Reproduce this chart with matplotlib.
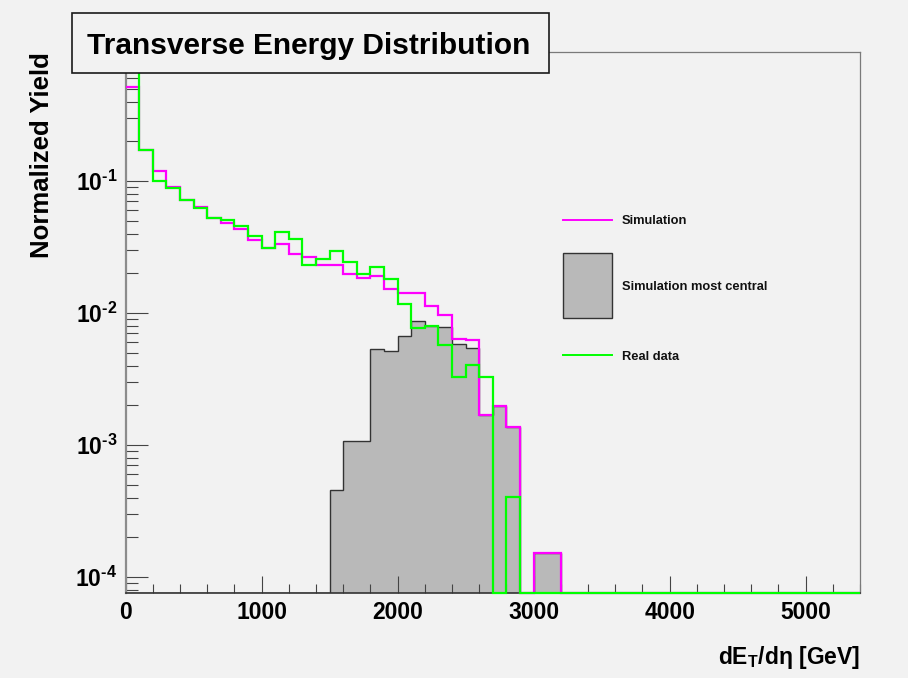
import numpy as np
import matplotlib
matplotlib.use('Agg')
import matplotlib.pyplot as plt
from matplotlib.patches import Rectangle
from matplotlib.lines import Line2D
from matplotlib.ticker import FixedLocator, LogLocator, NullFormatter, MultipleLocator

# dE_T/deta histograms, 100 GeV bins from 0 to 5400
et_lo, et_hi, et_step = 0, 5400, 100

sim_all = [
    0.515, 0.171, 0.1198, 0.0900, 0.0718, 0.0640, 0.0528, 0.0483, 0.0430, 0.0356,
    0.0313, 0.0335, 0.0280, 0.0266, 0.0232, 0.0232, 0.0196, 0.0185, 0.0191, 0.0151,
    0.01426, 0.01426, 0.01130, 0.00961, 0.00638, 0.00621, 0.00169, 0.00199, 0.00138, 0,
    0.000153, 0.000153, 0, 0, 0, 0, 0, 0, 0, 0,
    0, 0, 0, 0, 0, 0, 0, 0, 0, 0,
    0, 0, 0, 0,
]
sim_central = [
    0, 0, 0, 0, 0, 0, 0, 0, 0, 0,
    0, 0, 0, 0, 0, 0.000456, 0.001066, 0.001066, 0.00531, 0.00513,
    0.00666, 0.00865, 0.00800, 0.00780, 0.00586, 0.00543, 0.00169, 0.00199, 0.00138, 0,
    0.000153, 0.000153, 0, 0, 0, 0, 0, 0, 0, 0,
    0, 0, 0, 0, 0, 0, 0, 0, 0, 0,
    0, 0, 0, 0,
]
real_data = [
    0.75, 0.171, 0.1006, 0.0880, 0.0718, 0.0621, 0.0528, 0.0507, 0.0459, 0.0386,
    0.0313, 0.0411, 0.0364, 0.0230, 0.0258, 0.0293, 0.0242, 0.0196, 0.0222, 0.0182,
    0.01178, 0.00769, 0.00801, 0.00569, 0.00326, 0.00403, 0.00325, 0, 0.000404, 0,
    0, 0, 0, 0, 0, 0, 0, 0, 0, 0,
    0, 0, 0, 0, 0, 0, 0, 0, 0, 0,
    0, 0, 0, 0,
]

x_ticks = [0, 1000, 2000, 3000, 4000, 5000]
y_ticks = [1e-4, 1e-3, 1e-2, 1e-1]
y_ticklabels = [r'$10^{\text{-}4}$', r'$10^{\text{-}3}$', r'$10^{\text{-}2}$', r'$10^{\text{-}1}$']
legend_labels = ['Simulation', 'Simulation most central', 'Real data']

y_min, y_max = 7.6e-5, 0.95

bg = '#f2f2f2'
plt.rcParams['font.family'] = ['Liberation Sans', 'DejaVu Sans']
plt.rcParams['font.weight'] = 'bold'
plt.rcParams['mathtext.fontset'] = 'custom'
plt.rcParams['mathtext.rm'] = 'Liberation Sans:bold'
plt.rcParams['mathtext.bf'] = 'Liberation Sans:bold'
plt.rcParams['mathtext.it'] = 'Liberation Sans:bold'
plt.rcParams['mathtext.default'] = 'bf'

W, H = 908, 678
fig = plt.figure(figsize=(W / 100, H / 100), dpi=100, facecolor=bg)
ax = fig.add_axes([125.7 / W, 1 - 592.7 / H, (860 - 125.7) / W, (592.7 - 52) / H])
ax.set_facecolor(bg)

edges = np.arange(et_lo, et_hi + et_step, et_step)


def floor(vals):
    # empty bins sit on the lower edge of the log frame
    v = np.asarray(vals, dtype=float)
    return np.where(v > 0, v, y_min)


ax.set_yscale('log')
ax.stairs(floor(sim_central), edges, baseline=y_min, fill=True,
          color='#b9b9b9', zorder=1)
ax.stairs(floor(sim_central), edges, baseline=y_min, color='#333333',
          lw=1.0, zorder=2)
ax.stairs(floor(sim_all), edges, baseline=None, color='#ff00ff',
          lw=1.6, zorder=3, clip_on=False)
ax.stairs(floor(real_data), edges, baseline=None, color='#00ff00',
          lw=1.6, zorder=4, clip_on=False)

ax.set_xlim(et_lo, et_hi)
ax.set_ylim(y_min, y_max)

# frame
for side in ['top', 'right']:
    ax.spines[side].set_color('#7a7a7a')
    ax.spines[side].set_linewidth(0.9)
ax.spines['left'].set_color('#8c8c8c')
ax.spines['left'].set_linewidth(1.6)
ax.spines['bottom'].set_color('#333333')
ax.spines['bottom'].set_linewidth(1.2)

ax.xaxis.set_major_locator(FixedLocator(x_ticks))
ax.xaxis.set_minor_locator(MultipleLocator(200))
ax.set_xticklabels([str(t) for t in x_ticks])
ax.yaxis.set_major_locator(FixedLocator(y_ticks))
ax.yaxis.set_minor_locator(LogLocator(base=10, subs=np.arange(2, 10)))
ax.yaxis.set_minor_formatter(NullFormatter())
ax.set_yticklabels(y_ticklabels)

ax.tick_params(axis='both', which='both', direction='in', color='#444444',
               width=0.8, labelsize=16.5, top=False, right=False)
ax.tick_params(axis='x', which='major', length=12.2, pad=6)
ax.tick_params(axis='x', which='minor', length=6.5)
ax.tick_params(axis='y', which='major', length=15.8, pad=6)
ax.tick_params(axis='y', which='minor', length=8.6)
for lab in ax.get_xticklabels() + ax.get_yticklabels():
    lab.set_fontweight('bold')

# axis titles, ROOT-style: right / top aligned
fig.text(860 / W, 1 - 664 / H, 'd$E_{T}$/dη [GeV]', ha='right', va='baseline',
         fontsize=16.5, fontweight='bold')
fig.text(42 / W, 1 - 51.7 / H, 'Normalized Yield', rotation=90, ha='center',
         va='top', fontsize=18.5, fontweight='bold')

# title box
fig.add_artist(Rectangle((72 / W, 1 - 73 / H), (549 - 72) / W, (73 - 12.7) / H,
                         transform=fig.transFigure, facecolor=bg,
                         edgecolor='#1a1a1a', lw=1.2, zorder=5))
fig.text(87 / W, 1 - 53.5 / H, 'Transverse Energy Distribution', ha='left',
         va='baseline', fontsize=21.5, fontweight='bold', zorder=6)

# legend, no border
key_x0, key_x1, txt_x = 563 / W, 612 / W, 622 / W
fig.add_artist(Line2D([key_x0, key_x1], [1 - 219.7 / H, 1 - 219.7 / H],
                      transform=fig.transFigure, color='#ff00ff', lw=1.4))
fig.add_artist(Rectangle((key_x0, 1 - 318.3 / H), key_x1 - key_x0,
                         (318.3 - 253) / H, transform=fig.transFigure,
                         facecolor='#b9b9b9', edgecolor='#333333', lw=1.0))
fig.add_artist(Line2D([key_x0, key_x1], [1 - 355.3 / H, 1 - 355.3 / H],
                      transform=fig.transFigure, color='#00ff00', lw=1.4))
for lbl, yc in zip(legend_labels, [221.5, 287.0, 357.3]):
    fig.text(txt_x, 1 - yc / H, lbl, ha='left', va='center', fontsize=9.3,
             fontweight='bold', color='#111111')

fig.savefig('out.png', dpi=100, facecolor=bg)
